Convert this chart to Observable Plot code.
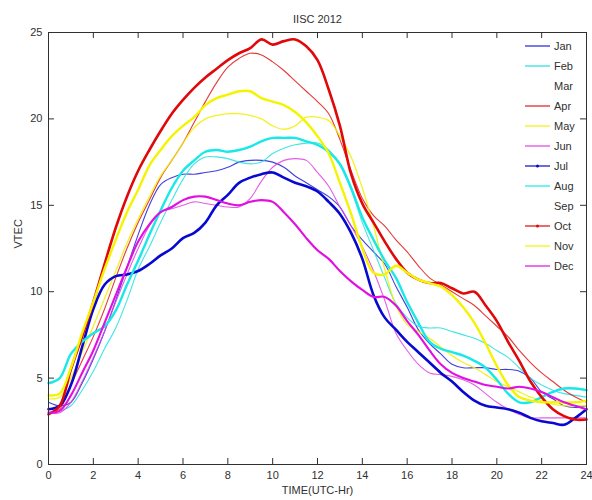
<!DOCTYPE html>
<html>
<head>
<meta charset="utf-8">
<script src="https://cdn.jsdelivr.net/npm/d3@7"></script>
<script src="https://cdn.jsdelivr.net/npm/@observablehq/plot@0.6"></script>
<style>
  html, body { margin: 0; padding: 0; background: #fff; }
  #chart svg { display: block; font-family: "Liberation Sans", Arial, Helvetica, sans-serif; }
</style>
</head>
<body>
<div id="chart"></div>
<script>
// ---------- data ----------
const months = ["Jan","Feb","Mar","Apr","May","Jun","Jul","Aug","Sep","Oct","Nov","Dec"];
const monthColors = ["#2020d8","#20e0e0","#ffffff","#e01818","#f0f000","#e040e0","#0808d0","#18e8e8","#ffffff","#e00808","#f4f400","#e010e0"];
const monthWidths = [1.1,1.1,1.1,1.1,1.3,1.1,2.6,2.4,1.1,2.6,2.4,2.1];
const monthMarkers = [false,false,false,false,false,false,true,false,false,true,false,false];
const xTicks = [0,2,4,6,8,10,12,14,16,18,20,22,24];
const yTicks = [0,5,10,15,20,25];
const hours = [0,0.5,1,1.5,2,2.5,3,3.5,4,4.5,5,5.5,6,6.5,7,7.5,8,8.5,9,9.5,10,10.5,11,11.5,12,12.5,13,13.5,14,14.5,15,15.5,16,16.5,17,17.5,18,18.5,19,19.5,20,20.5,21,21.5,22,22.5,23,23.5,24];

const jan = [3.6,3.4,3.6,4.7,6.1,7.7,9.5,11.4,13.3,15.0,16.2,16.6,16.8,16.8,16.9,17.0,17.2,17.5,17.6,17.6,17.5,17.2,16.7,16.3,15.9,15.5,14.9,13.8,13.0,12.3,11.6,10.3,9.1,7.8,7.0,6.4,5.8,5.6,5.6,5.6,5.5,5.5,5.4,5.0,4.2,3.8,3.4,3.3,3.4];
const feb = [3.0,3.1,3.4,4.3,5.4,6.7,7.9,9.5,11.3,12.6,14.0,15.3,16.5,17.4,17.8,17.8,17.7,17.5,17.4,17.5,18.0,18.3,18.5,18.6,18.6,18.2,17.3,15.9,14.0,12.4,10.8,9.3,8.5,8.0,7.9,7.9,7.7,7.5,7.3,7.0,6.6,6.2,5.6,5.0,4.6,4.3,4.1,4.0,3.9];
const mar = [];
const apr = [3.0,3.2,4.6,6.0,7.4,9.0,10.8,12.5,14.0,15.3,16.6,17.6,18.6,19.8,21.0,22.1,23.0,23.5,23.8,23.7,23.3,22.8,22.2,21.6,21.0,20.3,18.8,17.0,15.4,14.4,13.8,13.0,12.3,11.5,10.8,10.4,10.0,9.6,9.2,8.6,8.0,7.4,6.6,5.9,5.3,4.8,4.3,3.9,3.6];
const may = [3.8,3.9,5.0,6.5,8.0,9.6,11.2,12.8,14.2,15.5,16.7,17.6,18.6,19.5,20.0,20.2,20.3,20.3,20.2,20.0,19.6,19.4,19.6,20.1,20.1,19.9,19.0,17.8,16.0,13.8,11.3,9.2,8.1,7.7,7.3,6.8,6.3,5.9,5.6,5.2,4.8,4.5,4.2,3.9,3.7,3.5,3.4,3.4,3.4];
const jun = [3.0,3.0,3.6,4.8,6.2,7.7,9.4,11.0,12.5,13.8,14.6,14.8,15.0,15.2,15.1,15.0,14.9,14.9,15.4,16.4,17.2,17.6,17.7,17.6,16.9,16.1,14.9,13.8,12.6,11.2,9.5,7.6,6.6,5.8,5.3,5.2,5.1,4.9,4.6,4.1,3.6,3.2,2.9,2.7,2.7,2.7,2.7,2.7,2.7];
const jul = [3.2,3.4,4.6,6.8,9.0,10.4,10.9,11.0,11.2,11.6,12.1,12.5,13.1,13.4,14.0,15.0,15.6,16.3,16.6,16.8,16.9,16.6,16.3,16.1,15.8,15.2,14.5,13.4,11.9,9.8,8.5,7.8,7.1,6.5,5.9,5.3,4.8,4.2,3.7,3.4,3.3,3.2,3.0,2.7,2.5,2.4,2.3,2.7,3.2];
const aug = [4.7,5.0,6.4,7.1,7.6,8.0,8.9,10.4,11.8,13.3,14.7,16.0,17.0,17.6,18.1,18.2,18.1,18.2,18.4,18.7,18.9,18.9,18.9,18.7,18.5,18.1,17.4,16.0,14.3,13.0,11.8,10.8,9.4,8.2,7.1,6.7,6.5,6.3,6.0,5.6,4.9,4.1,3.6,3.6,3.9,4.2,4.4,4.4,4.3];
const sep = [];
const oct = [2.9,3.4,5.5,7.4,9.4,11.6,13.7,15.5,17.0,18.2,19.3,20.3,21.1,21.8,22.4,22.9,23.4,23.8,24.1,24.6,24.3,24.5,24.6,24.2,23.4,21.7,19.6,16.8,15.1,14.0,12.9,11.9,11.1,10.7,10.5,10.5,10.2,9.9,10.0,9.2,8.3,7.1,6.0,4.8,3.9,3.2,2.8,2.6,2.6];
const nov = [4.0,4.1,5.6,7.6,9.4,11.3,13.0,14.6,15.9,17.3,18.2,19.0,19.6,20.1,20.8,21.2,21.4,21.6,21.6,21.2,21.0,20.8,20.4,19.8,19.0,18.0,16.3,14.5,12.5,11.1,11.0,11.5,11.1,10.7,10.5,10.3,9.8,9.1,8.2,7.0,5.7,4.6,3.9,3.7,3.6,3.6,3.6,3.6,3.7];
const dec = [3.0,3.1,4.0,5.3,6.6,8.2,9.8,11.4,12.9,13.9,14.6,14.9,15.3,15.5,15.5,15.3,15.1,15.0,15.2,15.3,15.2,14.6,13.9,13.1,12.4,11.9,11.2,10.6,10.1,9.7,9.7,9.2,8.3,7.5,6.6,5.8,5.3,5.0,4.8,4.6,4.5,4.4,4.5,4.4,4.2,3.9,3.6,3.4,3.2];

const seriesValues = [jan, feb, mar, apr, may, jun, jul, aug, sep, oct, nov, dec];

// ---------- table ----------
const table = months.flatMap((m, i) => seriesValues[i].map((v, j) => ({month: m, idx: i, t: hours[j], v})));

const FONT = "Liberation Sans, Arial, Helvetica, sans-serif";
const INK = "#303030";
const W = 592, H = 500, MT = 32, MB = 36, ML = 48, MR = 6;
const TICK = 6;
const frameH = H - MT - MB, frameW = W - ML - MR;

const lineMarks = months.map((m, i) => Plot.line(table.filter(d => d.idx === i), {
  x: "t", y: "v",
  stroke: monthColors[i],
  strokeWidth: monthWidths[i],
  strokeOpacity: monthWidths[i] > 2 ? 1 : 0.85,
  curve: "catmull-rom"
}));

const chart = Plot.plot({
  width: W, height: H,
  marginTop: MT, marginBottom: MB, marginLeft: ML, marginRight: MR,
  style: {fontFamily: FONT, fontSize: "11px", color: INK, background: "#fff"},
  x: {domain: [0, 24]},
  y: {domain: [0, 25]},
  marks: [
    ...lineMarks,
    Plot.frame({stroke: INK, strokeWidth: 1}),
    Plot.tickX(xTicks, {x: d => d, insetTop: frameH - TICK, stroke: INK}),
    Plot.tickX(xTicks, {x: d => d, insetBottom: frameH - TICK, stroke: INK}),
    Plot.tickY(yTicks, {y: d => d, insetRight: frameW - TICK, stroke: INK}),
    Plot.tickY(yTicks, {y: d => d, insetLeft: frameW - TICK, stroke: INK}),
    Plot.axisX({ticks: xTicks, tickSize: 0, tickPadding: 7, label: null, fontSize: 11, fill: INK}),
    Plot.axisY({ticks: yTicks, tickSize: 0, tickPadding: 6, label: null, fontSize: 11, fill: INK}),
    Plot.text(["IISC 2012"], {text: d => d, frameAnchor: "top", dy: -17, fontSize: 11, fill: INK}),
    Plot.text(["TIME(UTC-Hr)"], {text: d => d, frameAnchor: "bottom", dy: 29, fontSize: 11, fill: INK}),
    Plot.text(["VTEC"], {text: d => d, frameAnchor: "left", dx: -30, rotate: -90, fontSize: 11, fill: INK})
  ]
});

// ---------- legend ----------
const svg = d3.select(chart);
const lg = svg.append("g").attr("font-family", FONT).attr("font-size", 11).attr("text-anchor", "start");
const LX0 = 525, LX1 = 550, LTX = 554, LY0 = 46, LDY = 20;
months.forEach((m, i) => {
  const y = LY0 + i * LDY;
  lg.append("line").attr("x1", LX0).attr("x2", LX1).attr("y1", y).attr("y2", y)
    .attr("stroke", monthColors[i]).attr("stroke-width", 1.2);
  if (monthMarkers[i]) {
    lg.append("circle").attr("cx", (LX0 + LX1) / 2).attr("cy", y).attr("r", 1.5).attr("fill", monthColors[i]);
  }
  lg.append("text").attr("x", LTX).attr("y", y).attr("dy", "0.35em")
    .attr("text-anchor", "start").attr("fill", INK).text(m);
});

document.getElementById("chart").appendChild(chart);
</script>
</body>
</html>
